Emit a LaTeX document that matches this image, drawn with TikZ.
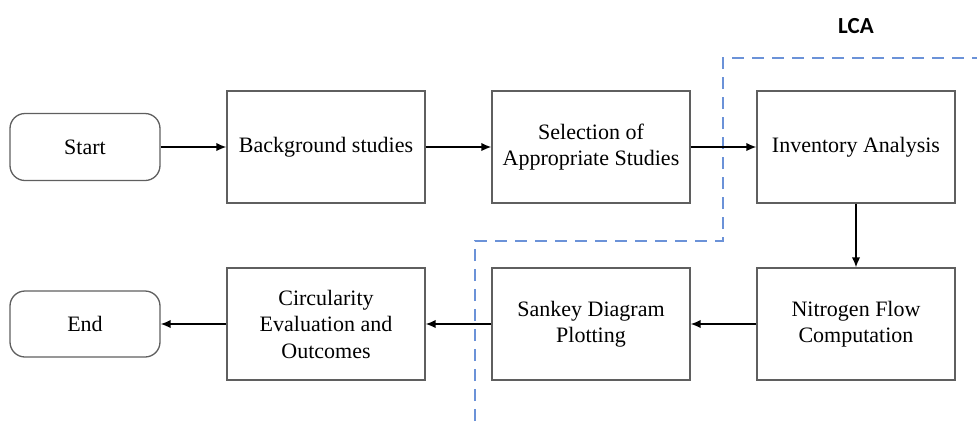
\documentclass[tikz,border=0pt]{standalone}
\usepackage{fontspec}
\setmainfont{Liberation Serif}
\newfontfamily\labelfont{Carlito}
\usetikzlibrary{arrows.meta}
\definecolor{boxgray}{HTML}{5F5F5F}
\definecolor{lcablue}{HTML}{6B92D8}
\begin{document}
\begin{tikzpicture}[x=1pt,y=-1pt,
  stepbox/.style={draw=boxgray, line width=1.3pt, minimum width=198pt, minimum height=112pt,
    align=center, inner sep=0pt, font=\fontsize{22}{26.5}\selectfont},
  terminal/.style={draw=boxgray, line width=1.3pt, rounded corners=15pt, minimum width=150pt,
    minimum height=67pt, inner sep=0pt, font=\fontsize{22}{26.5}\selectfont},
  flow/.style={draw=black, line width=1.6pt, -{Latex[length=10pt,width=8.5pt]}},
  boundary/.style={draw=lcablue, line width=1.8pt, dash pattern=on 12pt off 8pt}]
\useasboundingbox (0,0) rectangle (977,421);

% LCA boundary
\coordinate (b1) at (475,421);
\coordinate (b2) at (475,241);
\coordinate (b3) at (723,241);
\coordinate (b4) at (723,58);
\coordinate (b5) at (977,58);
\draw[boundary] (b1) -- (b2) -- (b3) -- (b4) -- (b5);
\node[font=\labelfont\bfseries\fontsize{23}{26}\selectfont] (lca) at (856,26) {LCA};

% top row
\node[terminal] (start) at (85,147) {Start};
\node[stepbox] (bg) at (326,147) {Background studies};
\node[stepbox] (sel) at (591,147) {Selection of\\Appropriate Studies};
\node[stepbox] (inv) at (856,147) {Inventory Analysis};

% bottom row
\node[stepbox] (nit) at (856,324) {Nitrogen Flow\\Computation};
\node[stepbox] (san) at (591,324) {Sankey Diagram\\Plotting};
\node[stepbox] (circ) at (326,324) {Circularity\\Evaluation and\\Outcomes};
\node[terminal, minimum height=66pt] (end) at (85,324) {End};

% connectors
\draw[flow] (start) -- (bg);
\draw[flow] (bg) -- (sel);
\draw[flow] (sel) -- (inv);
\draw[flow] (inv) -- (nit);
\draw[flow] (nit) -- (san);
\draw[flow] (san) -- (circ);
\draw[flow] (circ) -- (end);
\end{tikzpicture}
\end{document}
